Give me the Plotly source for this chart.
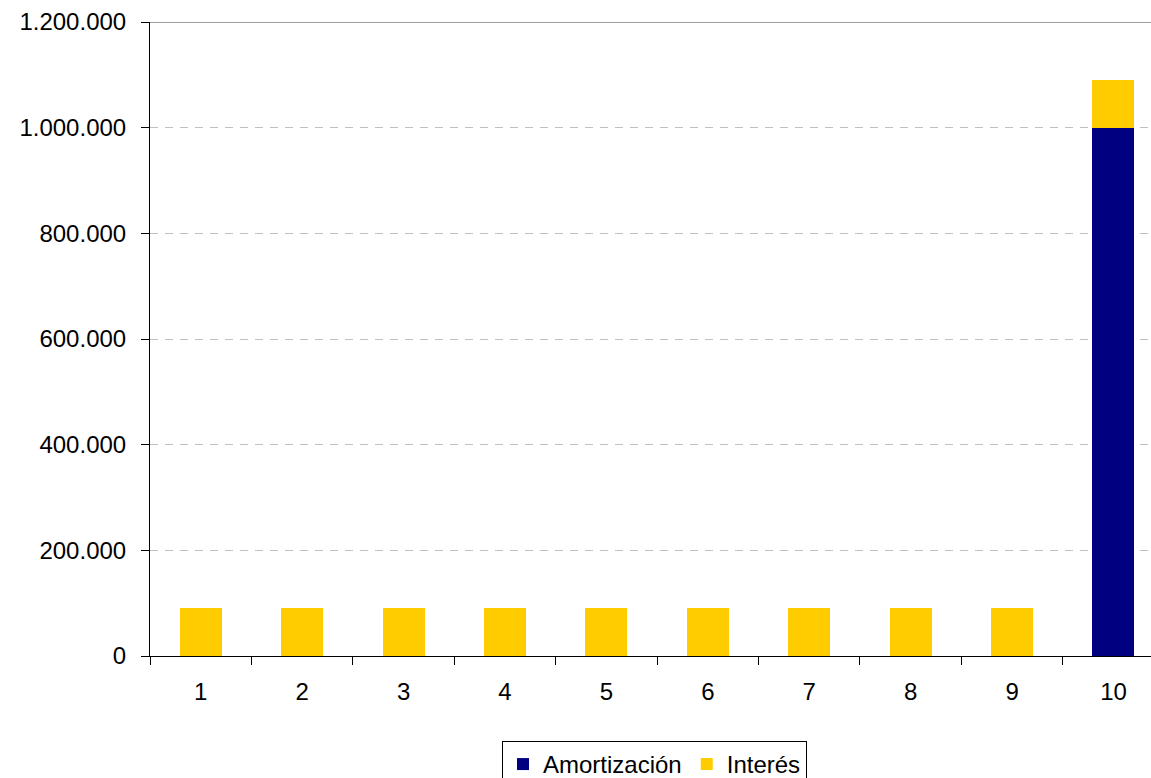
import plotly.graph_objects as go

periods = ["1", "2", "3", "4", "5", "6", "7", "8", "9", "10"]
amortizacion = [0, 0, 0, 0, 0, 0, 0, 0, 0, 1000000]
interes = [90000, 90000, 90000, 90000, 90000, 90000, 90000, 90000, 90000, 90000]
y_ticks = [0, 200000, 400000, 600000, 800000, 1000000, 1200000]

FONT = "Liberation Sans, Arial, sans-serif"

fig = go.Figure()
fig.add_trace(go.Bar(x=periods, y=amortizacion, name="Amortización",
                     marker=dict(color="#000080", line=dict(width=0))))
fig.add_trace(go.Bar(x=periods, y=interes, name="Interés",
                     marker=dict(color="#FFCC00", line=dict(width=0))))

fig.update_layout(
    width=1151, height=778,
    barmode="stack",
    bargap=0.586,
    separators=",.",
    paper_bgcolor="white",
    plot_bgcolor="white",
    margin=dict(l=150, r=0, t=22, b=122, autoexpand=False),
    font=dict(family=FONT, size=24, color="black"),
    legend=dict(orientation="h", x=0.504, xanchor="center", y=-0.134, yanchor="top",
                traceorder="normal",
                bordercolor="black", borderwidth=1, font=dict(size=24),
                itemwidth=30, tracegroupgap=0),
    xaxis=dict(type="category", range=[-0.5, 9.37], tickson="boundaries",
               ticks="outside", ticklen=8, tickcolor="black", tickwidth=1,
               showline=True, linecolor="black", linewidth=1,
               showgrid=False, ticklabelstandoff=14, fixedrange=True),
    yaxis=dict(range=[0, 1200000], tickvals=y_ticks, tickformat=",d",
               ticks="outside", ticklen=8, tickcolor="black", tickwidth=1,
               showline=True, linecolor="black", linewidth=1,
               showgrid=True, gridcolor="#c0c0c0", gridwidth=1, griddash="8px,7px",
               zeroline=False, ticklabelstandoff=10),
    shapes=[dict(type="line", xref="paper", yref="y", x0=0, x1=1, y0=1200000, y1=1200000,
                 line=dict(color="#a0a0a0", width=2))],
)

fig.write_html("out.html")
